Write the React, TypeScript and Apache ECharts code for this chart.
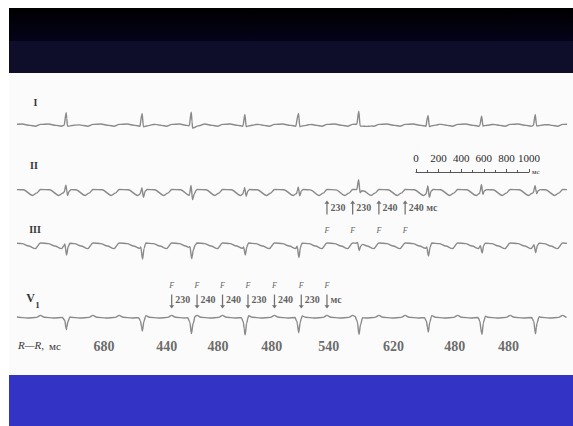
import React, { useEffect, useRef } from "react";
import * as echarts from "echarts";

// ---- data ----
const rrIntervals = [680, 440, 480, 480, 540, 620, 480, 480]; // ms, R-R in V1 row
const firstR = 440; // ms
const X_MAX = 4924; // ms shown in the strip
// flutter (F) wave peaks, ms
const fTimes = [-25, 210, 445, 680, 915, 1150, 1385, 1612, 1840, 2068, 2305, 2545, 2775, 3005, 3240, 3475, 3710, 3945, 4180, 4415, 4650, 4885, 5120];
const v1MarkIdx = [6, 7, 8, 9, 10, 11, 12];
const v1Intervals = ["230", "240", "240", "230", "240", "230", "мс"];
const iiMarkIdx = [12, 13, 14, 15];
const iiIntervals = ["230", "230", "240", "240 мс"];
const scaleTicks = [0, 200, 400, 600, 800, 1000];

// per-beat amplitudes (px-like units)
const ampI = [12, 12, 14, 11, 12, 13, 10, 9, 10];
const upII = [5, 5, 9, 5, 5, 10, 7, 7, 5];
const downII = [6, 6, 6, 5, 5, 3, 6, 4, 4];
const depthIII = [12, 13, 10, 9, 12, 7, 10, 8, 9];
const depthV1 = [14, 14, 16, 18, 16, 17, 15, 18, 18];

type Pt = [number, number];
// flutter wave shape over one cycle (phase 0..1, amplitude)
const flutterI: Pt[] = [[0, 0.6], [0.3, 1], [0.6, -0.4], [0.8, -1.2], [1, 0.6]];
const flutterII: Pt[] = [[0, 2.5], [0.35, 2.2], [0.7, -3.5], [0.85, -1.2], [1, 2.5]];
const flutterIII: Pt[] = [[0, 3], [0.3, 2.4], [0.55, 0], [0.8, -2.6], [1, 3]];
const flutterV1: Pt[] = [[0, 2.6], [0.15, 0.8], [0.5, 0], [0.85, 0.6], [1, 2.6]];

const rTimes: number[] = [firstR];
rrIntervals.forEach((d) => rTimes.push(rTimes[rTimes.length - 1] + d));

function interp(pts: Pt[], x: number): number {
  for (let i = 0; i < pts.length - 1; i++) {
    const [x0, y0] = pts[i];
    const [x1, y1] = pts[i + 1];
    if (x >= x0 && x <= x1) return x1 === x0 ? y0 : y0 + ((y1 - y0) * (x - x0)) / (x1 - x0);
  }
  return 0;
}

function buildTrace(flutter: Pt[], beat: (j: number) => Pt[]): Pt[] {
  const beats = rTimes.map((r, j) => beat(j).map(([dt, v]) => [r + dt, v] as Pt));
  const ts: number[] = [0, X_MAX];
  for (let i = 0; i < fTimes.length - 1; i++) {
    const a = fTimes[i];
    const b = fTimes[i + 1];
    flutter.forEach(([f]) => ts.push(a + f * (b - a)));
  }
  beats.forEach((b) => b.forEach(([t]) => ts.push(t)));
  const uniq = Array.from(new Set(ts.map((t) => Math.round(t))))
    .filter((t) => t >= 0 && t <= X_MAX)
    .sort((a, b) => a - b);
  return uniq.map((t) => {
    let i = 0;
    while (i < fTimes.length - 2 && fTimes[i + 1] <= t) i++;
    const ph = (t - fTimes[i]) / (fTimes[i + 1] - fTimes[i]);
    let v = interp(flutter, ph);
    beats.forEach((b) => {
      if (t >= b[0][0] && t <= b[b.length - 1][0]) v += interp(b, t);
    });
    return [t, +v.toFixed(2)] as Pt;
  });
}

const traceI = buildTrace(flutterI, (j) => {
  const a = ampI[j];
  return [[-18, 0], [0, a], [12, -0.15 * a], [26, -0.15 * a], [70, -0.1 * a], [120, 0]];
});
const traceII = buildTrace(flutterII, (j) => {
  const u = upII[j];
  const d = downII[j];
  return [[-18, 0], [-2, u], [12, -d], [26, -0.3 * d], [44, 0]];
});
const traceIII = buildTrace(flutterIII, (j) => {
  const d = depthIII[j];
  return [[-24, 0], [-12, 1], [4, -d], [18, -0.3 * d], [34, 0]];
});
const traceV1 = buildTrace(flutterV1, (j) => {
  const d = depthV1[j];
  return [[-32, 0], [-14, -0.25 * d], [2, -d], [16, -0.4 * d], [34, 0]];
});

const SERIF = '"Liberation Serif", "DejaVu Serif", serif';
const TXT = "#363636";
const LINE = "#8a8a8a";
const ARROW = "path://M4,0 L8,9 L5,9 L5,40 L3,40 L3,9 L0,9 Z";

export default function App() {
  const ref = useRef<HTMLDivElement>(null);
  useEffect(() => {
    if (!ref.current) return;
    const chart = echarts.init(ref.current, null, { renderer: "svg" });

    const gridBase = { left: 17, width: 550 };
    const grids = [
      { ...gridBase, top: 105, height: 40 }, // I: y 0 at 125
      { ...gridBase, top: 172, height: 50 }, // II: y 0 at 192
      { ...gridBase, top: 222, height: 44 }, // III: y 0 at 246
      { ...gridBase, top: 282, height: 70 }, // V1: y 0 at 318
      { left: 416, width: 113, top: 166, height: 6 }, // scale bar
    ];
    const yRanges: [number, number][] = [[-20, 20], [-30, 20], [-20, 24], [-34, 36], [0, 1]];

    const xAxes: any[] = grids.slice(0, 4).map((_, i) => ({
      type: "value", gridIndex: i, min: 0, max: X_MAX, show: false,
    }));
    xAxes.push({
      type: "value", gridIndex: 4, min: 0, max: 1000, interval: 200, position: "top",
      axisLine: { show: true, lineStyle: { color: "#555", width: 1 } },
      axisTick: { show: true, length: 3, lineStyle: { color: "#555" } },
      minorTick: { show: true, splitNumber: 2, length: 2, lineStyle: { color: "#555" } },
      splitLine: { show: false },
      axisLabel: {
        show: true, margin: 3, color: "#2a2a2a", fontFamily: SERIF, fontSize: 11,
        customValues: scaleTicks,
        formatter: (v: number) => String(v),
      },
      name: "мс", nameLocation: "end", nameGap: 3,
      nameTextStyle: { fontFamily: SERIF, fontSize: 7, color: "#2a2a2a", verticalAlign: "middle" },
    });
    const yAxes = yRanges.map((r, i) => ({ type: "value", gridIndex: i, min: r[0], max: r[1], show: false }));

    const lineSeries = (data: Pt[], idx: number) => ({
      type: "line", xAxisIndex: idx, yAxisIndex: idx, data, showSymbol: false,
      smooth: 0.3, smoothMonotone: "x", silent: true,
      lineStyle: { color: LINE, width: 1.4 },
    });

    const textScatter = (idx: number, items: any[], label: any) => ({
      type: "scatter", xAxisIndex: idx, yAxisIndex: idx, data: items, clip: false,
      symbolSize: 1, itemStyle: { color: "rgba(0,0,0,0)" }, silent: true,
      label: { show: true, position: "inside", formatter: "{b}", fontFamily: SERIF, color: TXT, ...label },
    });

    const rrLabels = rrIntervals.map((d, j) => ({ name: String(d), value: [(rTimes[j] + rTimes[j + 1]) / 2, -28] }));
    const v1F = v1MarkIdx.map((k) => ({ name: "F", value: [fTimes[k], 33] }));
    const iiiF = iiMarkIdx.map((k) => ({ name: "F", value: [fTimes[k], 16] }));
    const v1Arrows = v1MarkIdx.map((k, n) => ({ name: v1Intervals[n], value: [fTimes[k], 16.5] }));
    const iiArrows = iiMarkIdx.map((k, n) => ({ name: iiIntervals[n], value: [fTimes[k], -15.5] }));

    const arrowSeries = (idx: number, items: any[], rotate: number, labelOffset: number[]) => ({
      type: "scatter", xAxisIndex: idx, yAxisIndex: idx, data: items, clip: false, silent: true,
      symbol: ARROW, symbolSize: [5, 14], symbolRotate: rotate,
      itemStyle: { color: "#505050" },
      label: {
        show: true, position: "right", distance: 1, formatter: "{b}", offset: labelOffset,
        fontFamily: SERIF, fontSize: 10, color: TXT, fontWeight: "bold",
      },
    });

    const option: any = {
      animation: false,
      backgroundColor: "#ffffff",
      grid: grids,
      xAxis: xAxes,
      yAxis: yAxes,
      graphic: [
        { type: "rect", z: -10, shape: { x: 9, y: 73, width: 564, height: 302 }, style: { fill: "#fbfbfb" } },
        {
          type: "rect", z: -5, shape: { x: 9, y: 8, width: 564, height: 33 },
          style: {
            fill: new echarts.graphic.LinearGradient(0, 0, 0, 1, [
              { offset: 0, color: "#000000" },
              { offset: 1, color: "#04031a" },
            ]),
          },
        },
        { type: "rect", z: -5, shape: { x: 9, y: 41, width: 564, height: 32 }, style: { fill: "#0e0e2b" } },
        { type: "rect", z: -5, shape: { x: 9, y: 375, width: 564, height: 51 }, style: { fill: "#3333c5" } },
        { type: "text", x: 35.5, y: 102.5, style: { text: "I", font: `bold 10px ${SERIF}`, fill: TXT, textAlign: "center", textVerticalAlign: "middle" } },
        { type: "text", x: 34, y: 165.5, style: { text: "II", font: `bold 10px ${SERIF}`, fill: TXT, textAlign: "center", textVerticalAlign: "middle" } },
        { type: "text", x: 35, y: 229.5, style: { text: "III", font: `bold 10px ${SERIF}`, fill: TXT, textAlign: "center", textVerticalAlign: "middle" } },
        { type: "text", x: 30.5, y: 298, style: { text: "V", font: `bold 12px ${SERIF}`, fill: TXT, textAlign: "center", textVerticalAlign: "middle" } },
        { type: "text", x: 37.5, y: 305, style: { text: "1", font: `bold 9px ${SERIF}`, fill: TXT, textAlign: "center", textVerticalAlign: "middle" } },
        { type: "text", x: 18, y: 345, style: { text: "R—R,", font: `italic 11px ${SERIF}`, fill: TXT, textAlign: "left", textVerticalAlign: "middle" } },
        { type: "text", x: 49, y: 345.5, style: { text: "мс", font: `11px ${SERIF}`, fill: TXT, textAlign: "left", textVerticalAlign: "middle" } },
      ],
      series: [
        lineSeries(traceI, 0),
        lineSeries(traceII, 1),
        lineSeries(traceIII, 2),
        lineSeries(traceV1, 3),
        textScatter(3, rrLabels, { fontSize: 14, fontWeight: "bold", color: "#444" }),
        textScatter(3, v1F, { fontSize: 8, fontStyle: "italic" }),
        textScatter(2, iiiF, { fontSize: 8, fontStyle: "italic" }),
        arrowSeries(3, v1Arrows, 180, [0, -2]),
        arrowSeries(1, iiArrows, 0, [0, 0]),
        {
          type: "line", xAxisIndex: 4, yAxisIndex: 4, data: [], silent: true,
        },
      ],
    };
    chart.setOption(option);
    return () => chart.dispose();
  }, []);
  return <div ref={ref} style={{ position: "fixed", left: 0, top: 0, width: 573, height: 426 }} />;
}
